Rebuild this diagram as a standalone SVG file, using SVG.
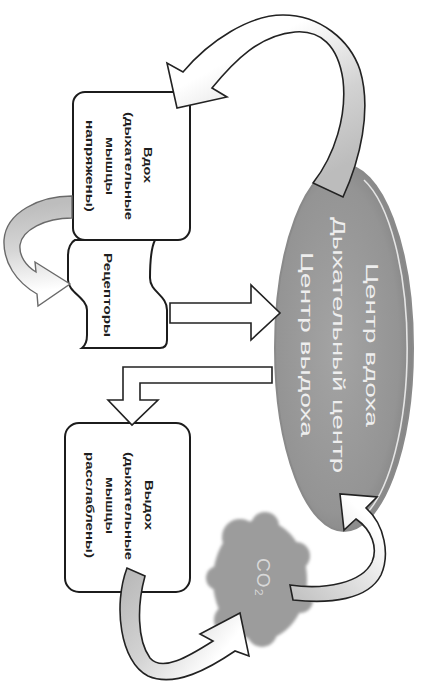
<svg xmlns="http://www.w3.org/2000/svg" width="426" height="684" viewBox="0 0 426 684">
  <style>
    .box { fill:#ffffff; stroke:#1c1c1c; stroke-width:2; }
    .lbl { font-family:"Liberation Sans", Arial, sans-serif; font-weight:bold; font-size:10px; fill:#1e1e1e; }
    .ctr { font-family:"Liberation Sans", Arial, sans-serif; font-size:16px; fill:#eeeeee; }
    .co2 { font-family:"Liberation Sans", "DejaVu Sans", sans-serif; font-size:19px; fill:#d8d8d8; }
    .arr { stroke:#222222; stroke-width:1.6; stroke-linejoin:miter; }
    .arrL { stroke:#6a6a6a; stroke-width:1.4; stroke-linejoin:miter; }
  </style>
  <defs>
    <radialGradient id="ellFill" cx="0.45" cy="0.5" r="0.6">
      <stop offset="0" stop-color="#a4a4a4"/>
      <stop offset="0.75" stop-color="#949494"/>
      <stop offset="1" stop-color="#7e7e7e"/>
    </radialGradient>
    <linearGradient id="g1" gradientUnits="userSpaceOnUse" x1="355" y1="160" x2="285" y2="30">
      <stop offset="0" stop-color="#bcbcbc"/>
      <stop offset="0.45" stop-color="#d2d2d2"/>
      <stop offset="1" stop-color="#ffffff"/>
    </linearGradient>
    <linearGradient id="g2" gradientUnits="userSpaceOnUse" x1="40" y1="205" x2="50" y2="290">
      <stop offset="0" stop-color="#bdbdbd"/>
      <stop offset="0.5" stop-color="#d6d6d6"/>
      <stop offset="1" stop-color="#ffffff"/>
    </linearGradient>
    <linearGradient id="g5" gradientUnits="userSpaceOnUse" x1="130" y1="575" x2="225" y2="650">
      <stop offset="0" stop-color="#bababa"/>
      <stop offset="0.5" stop-color="#d4d4d4"/>
      <stop offset="1" stop-color="#ffffff"/>
    </linearGradient>
    <linearGradient id="g6" gradientUnits="userSpaceOnUse" x1="295" y1="593" x2="370" y2="520">
      <stop offset="0" stop-color="#c4c4c4"/>
      <stop offset="0.6" stop-color="#e6e6e6"/>
      <stop offset="1" stop-color="#ffffff"/>
    </linearGradient>
    <filter id="soft" x="-10%" y="-10%" width="120%" height="120%">
      <feGaussianBlur stdDeviation="1.8"/>
    </filter>
  </defs>

  <rect width="426" height="684" fill="#ffffff"/>

  <g id="node-center">
    <ellipse cx="344" cy="348" rx="69" ry="183" fill="url(#ellFill)" stroke="#8a8a8a" stroke-width="2"/>
    <path d="M364,180 A63,177 0 0 1 364,516" fill="none" stroke="#f4f4f4" stroke-width="1.6" opacity="0.85"/>
    <text class="ctr" transform="translate(366,345) rotate(90)" x="-82" textLength="164" lengthAdjust="spacingAndGlyphs">Центр вдоха</text>
    <text class="ctr" transform="translate(333,345) rotate(90)" x="-128" textLength="256" lengthAdjust="spacingAndGlyphs">Дыхательный центр</text>
    <text class="ctr" transform="translate(301,344) rotate(90)" x="-92" textLength="185" lengthAdjust="spacingAndGlyphs">Центр выдоха</text>
  </g>

  <g id="node-inhale">
    <rect class="box" x="73" y="92" width="117" height="148" rx="12"/>
    <text class="lbl" transform="translate(144,165) rotate(90)" x="-18" textLength="36" lengthAdjust="spacingAndGlyphs">Вдох</text>
    <text class="lbl" transform="translate(125,166) rotate(90)" x="-54" textLength="108" lengthAdjust="spacingAndGlyphs">(дыхательные</text>
    <text class="lbl" transform="translate(106,166) rotate(90)" x="-29" textLength="58" lengthAdjust="spacingAndGlyphs">мышцы</text>
    <text class="lbl" transform="translate(86,166) rotate(90)" x="-46" textLength="92" lengthAdjust="spacingAndGlyphs">напряжены)</text>
  </g>

  <g id="node-receptors">
    <path class="box" d="M75,240 L155,240 C150,250 150,268 150,278 C150,292 167,295 167,310 L167,340 C167,346 164,348 160,348 L82,348 C86,345 87,340 87,335 L87,310 C87,298 68,292 68,280 L68,255 C68,248 71,242 75,240 Z"/>
    <text class="lbl" transform="translate(104,295) rotate(90)" x="-42" textLength="84" lengthAdjust="spacingAndGlyphs">Рецепторы</text>
  </g>

  <g id="node-exhale">
    <rect class="box" x="65" y="423" width="125" height="169" rx="14"/>
    <text class="lbl" transform="translate(145,505) rotate(90)" x="-25" textLength="50" lengthAdjust="spacingAndGlyphs">Выдох</text>
    <text class="lbl" transform="translate(125,506) rotate(90)" x="-54" textLength="108" lengthAdjust="spacingAndGlyphs">(дыхательные</text>
    <text class="lbl" transform="translate(106,506) rotate(90)" x="-29" textLength="57" lengthAdjust="spacingAndGlyphs">мышцы</text>
    <text class="lbl" transform="translate(86,505) rotate(90)" x="-53" textLength="106" lengthAdjust="spacingAndGlyphs">расслаблены)</text>
  </g>

  <g id="node-co2">
    <g fill="#9c9c9c" filter="url(#soft)">
      <ellipse cx="260" cy="580" rx="47" ry="60"/>
      <circle cx="240" cy="537" r="18"/>
      <circle cx="265" cy="526" r="14"/>
      <circle cx="296" cy="556" r="14"/>
      <circle cx="300" cy="600" r="13"/>
      <circle cx="262" cy="632" r="15"/>
      <circle cx="230" cy="620" r="16"/>
      <circle cx="218" cy="578" r="12"/>
    </g>
    <text class="co2" transform="translate(257,577) rotate(90)" x="-19" textLength="38" lengthAdjust="spacing">CO₂</text>
  </g>

  <g id="connectors">
    <path class="arr" fill="url(#g1)" d="M343,197 C360,160 372,110 360,70 C350,40 320,15 283,15 C250,15 210,40 183,72 L167,63 L177,108 L227,97 L212,88 C235,60 260,35 295,32 C320,30 338,45 343,80 C347,115 335,155 313,183 Z"/>
    <path class="arrL" fill="url(#g2)" d="M72,196 C40,196 6,212 4,240 C3,262 16,282 37,294 L38,306 L70,284 L35,262 L36,272 C26,266 19,256 20,245 C22,230 45,218 72,218 Z"/>
    <path class="arr" fill="#ffffff" d="M170,303 L251,303 L251,285 L280,313 L251,340 L251,323 L170,323 Z"/>
    <path class="arr" fill="#ffffff" d="M272,367 L123,367 L123,400 L108,400 L132,425 L158,400 L140,400 L140,383 L272,383 Z"/>
    <path class="arr" fill="url(#g5)" d="M145,576 C137,605 137,640 150,658 C162,672 188,657 213,641 L200,634 L240,613 L249,656 L235,651 C210,668 175,688 148,676 C120,662 113,605 127,568 Z"/>
    <path class="arr" fill="url(#g6)" d="M290,585 C325,590 362,583 372,562 C378,548 372,530 356,519 L344,530 L340,494 L377,497 L366,508 C385,525 390,555 381,575 C368,600 330,604 293,600 Z"/>
  </g>
</svg>
